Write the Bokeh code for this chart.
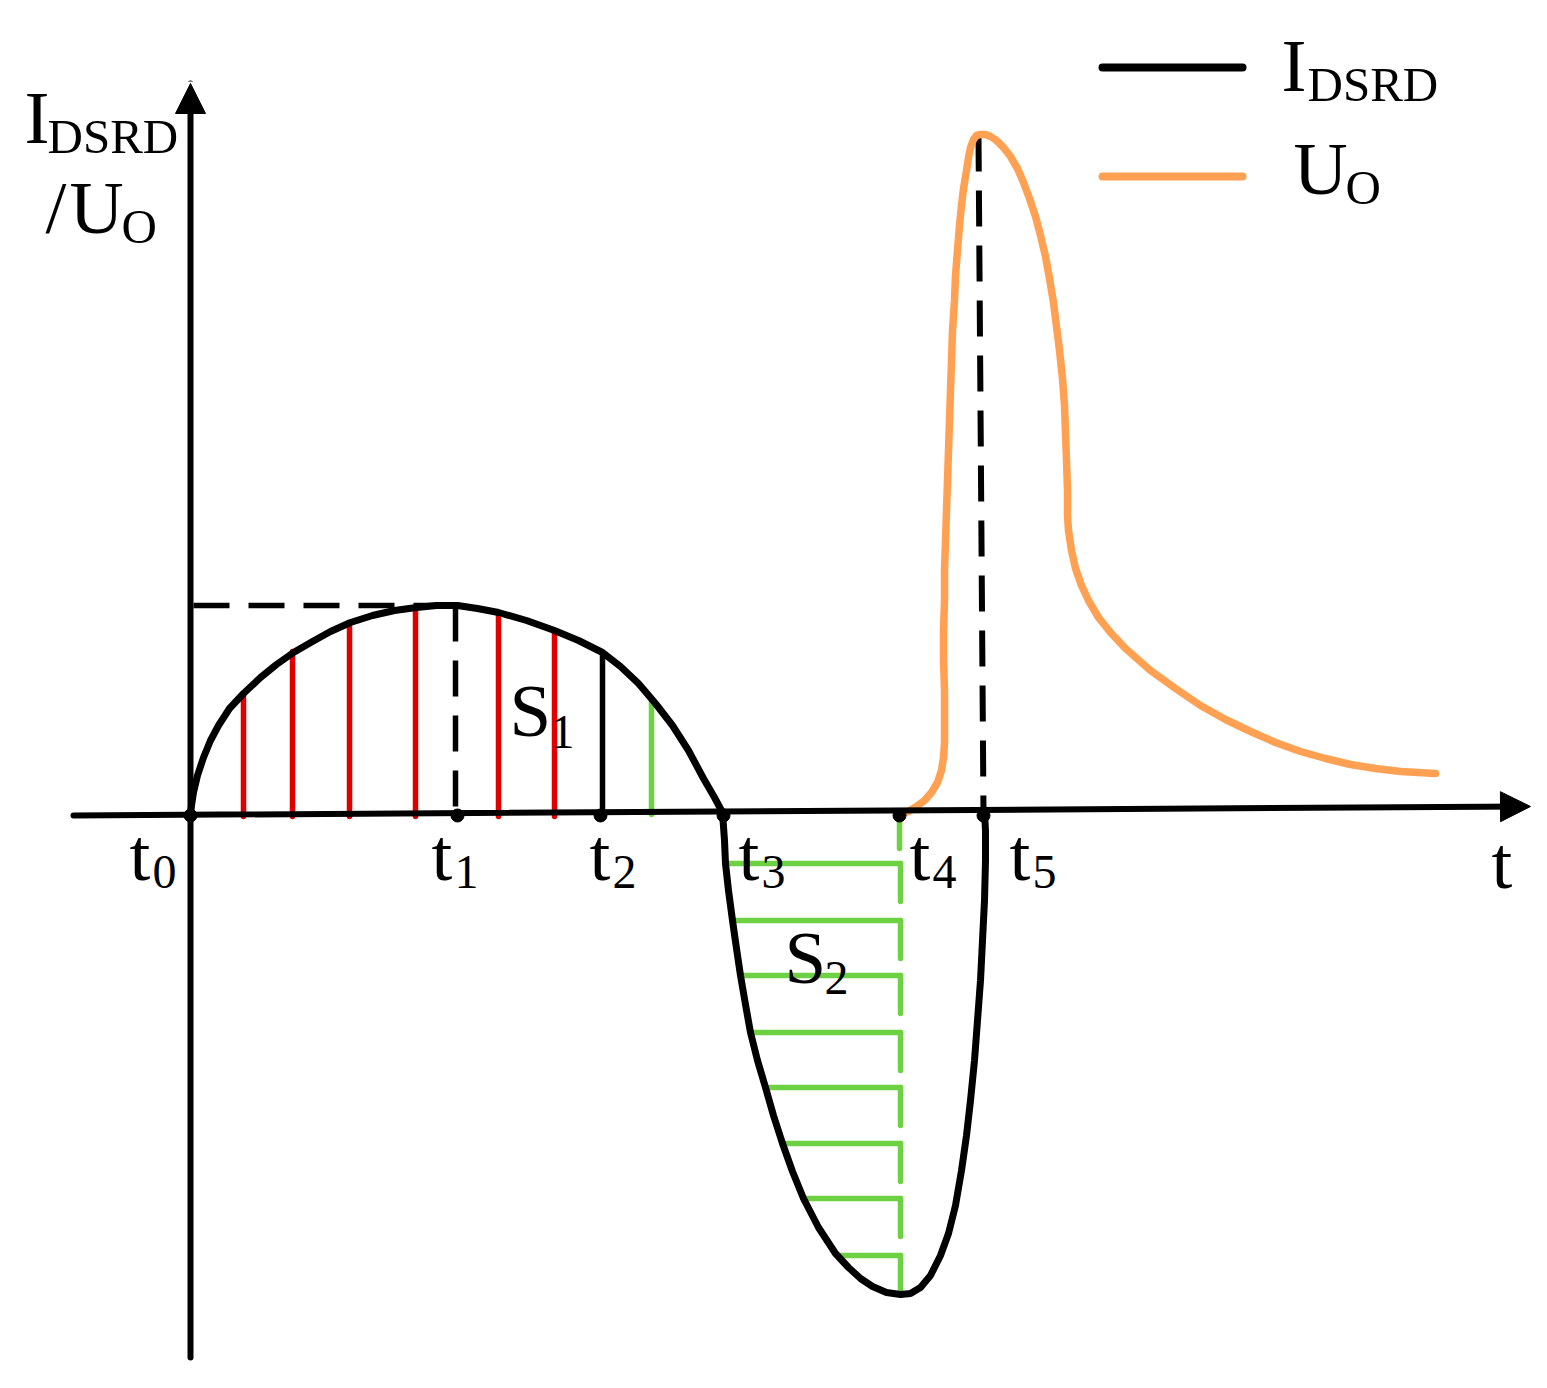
from bokeh.plotting import figure
from bokeh.models import Range1d, Arrow, NormalHead
from bokeh.core.properties import value
from bokeh.embed import file_html
from bokeh.resources import INLINE

# ---------------- data (arbitrary time units / amplitude units) ----------------
# I_DSRD current curve
i_t = [0, 1, 3, 7, 13, 20, 28, 39, 53, 70,
       86, 103, 122, 140, 160, 182, 204, 226, 246, 267,
       287, 308, 336, 364, 388, 412, 430, 448, 465, 482,
       498, 513, 524, 532, 534, 535, 538, 542, 546, 550,
       555, 560, 567, 575, 583, 592, 602, 613, 628, 645,
       658, 670, 682, 696, 710, 720, 730, 740, 750, 758,
       765, 771, 776, 780, 784, 787, 790, 792, 794, 795,
       795, 794]
i_val = [0, 9, 22, 39, 57, 74, 89, 106, 121, 137,
         150, 162, 173, 183, 192, 199, 204, 207, 209, 209,
         206, 202, 194, 184, 174, 162, 148, 131, 111, 89,
         64, 36, 17, 2, -26, -49, -76, -106, -134, -161,
         -190, -218, -246, -273, -301, -329, -357, -384, -413, -439,
         -453, -464, -472, -478, -480, -479, -473, -461, -441, -419,
         -391, -356, -321, -286, -246, -206, -166, -126, -86, -46,
         -16, 2]

# U_O output voltage curve
u_t = [710, 718, 726, 734, 741, 747, 751, 753, 754, 754,
       754, 753, 753, 754, 754, 755, 756, 757, 758, 759,
       760, 761, 762, 764, 765, 767, 769, 771, 773, 776,
       778, 780, 783, 786, 790, 795, 800, 806, 813, 820,
       827, 833, 839, 845, 850, 855, 859, 863, 866, 869,
       872, 874, 875, 876, 877, 877, 878, 881, 885, 891,
       898, 908, 920, 935, 960, 985, 1010, 1035, 1060, 1085,
       1110, 1135, 1160, 1185, 1210, 1245]
u_val = [0, 3, 8, 14, 22, 32, 44, 57, 72, 94,
         124, 154, 184, 214, 244, 274, 304, 334, 364, 394,
         424, 454, 484, 514, 539, 564, 589, 609, 626, 644,
         657, 667, 675, 679, 680, 680, 678, 674, 667, 658,
         646, 632, 616, 598, 579, 558, 536, 512, 488, 464,
         436, 409, 381, 354, 324, 299, 284, 264, 246, 229,
         214, 197, 182, 166, 144, 126, 109, 95, 83, 72,
         63, 56, 50, 46, 43, 41]

# characteristic instants t0..t5
t_marks = [0, 267, 410, 533, 709, 793]
t_names = ["0", "1", "2", "3", "4", "5"]
i_peak = 209           # peak of I_DSRD (at t1)
i_t2 = 162             # I_DSRD at t2
u_peak = 679           # peak of U_O (at t5)

# red hatching of S1
red_x = [53, 102, 159, 225, 308, 364]
red_top = [121, 163, 192, 206, 200, 183]
# green hatching (S1 tail)
green1_x = [461]
green1_top = [114]
# green hatching of S2
green_y = [-49, -106, -161, -218, -273, -329, -384, -441]
green_left = [535, 542, 550, 560, 575, 592, 613, 647]
green_right = 710
green_tick = 38

# axes extents
x_axis = [-117, -1, 1340, 8]   # x0, y0, x1, y1
y_axis = [0, -543, 0, 731]

BLACK = "#000000"
ORANGE = "#FFA052"
RED = "#E00000"
GREEN = "#6DD143"
FONT = value("Liberation Serif")

p = figure(width=1531, height=1372, output_backend="svg", toolbar_location=None,
           x_range=Range1d(-190, 1341), y_range=Range1d(-558, 814),
           x_axis_type=None, y_axis_type=None, min_border=0)
p.grid.visible = False
p.outline_line_color = None
p.background_fill_color = "white"
p.border_fill_color = "white"

# hatching
p.segment(x0=red_x, y0=[-2] * len(red_x), x1=red_x, y1=red_top,
          line_color=RED, line_width=5.5, line_cap="round")
p.segment(x0=green1_x, y0=[0], x1=green1_x, y1=green1_top,
          line_color=GREEN, line_width=5.5, line_cap="round")
p.segment(x0=green_left, y0=green_y, x1=[green_right] * len(green_y), y1=green_y,
          line_color=GREEN, line_width=5.5, line_cap="round")
p.segment(x0=[green_right] * len(green_y), y0=green_y,
          x1=[green_right] * len(green_y), y1=[g - green_tick for g in green_y],
          line_color=GREEN, line_width=5.5, line_cap="round")
p.segment(x0=[t_marks[4]], y0=[-8], x1=[t_marks[4]], y1=[-34],
          line_color=GREEN, line_width=5.5, line_cap="round")

# dashed guides
p.line([3, t_marks[1] - 2], [i_peak, i_peak], line_color=BLACK, line_width=5.5,
       line_dash="36 19")
p.line([t_marks[1] - 2, t_marks[1] - 2], [i_peak, 0], line_color=BLACK, line_width=5.5,
       line_dash="36 19")
p.line([788, t_marks[5]], [u_peak, 0], line_color=BLACK, line_width=6,
       line_dash="36 19")
# solid marker at t2
p.segment(x0=[t_marks[2] + 2], y0=[0], x1=[t_marks[2] + 2], y1=[i_t2],
          line_color=BLACK, line_width=5.5)

# axes
p.add_layout(Arrow(end=NormalHead(size=30, fill_color=BLACK, line_color=BLACK, line_width=1),
                   x_start=x_axis[0], y_start=x_axis[1], x_end=x_axis[2], y_end=x_axis[3],
                   line_width=6, line_color=BLACK, line_cap="round"))
p.add_layout(Arrow(end=NormalHead(size=30, fill_color=BLACK, line_color=BLACK, line_width=1),
                   x_start=y_axis[0], y_start=y_axis[1], x_end=y_axis[2], y_end=y_axis[3],
                   line_width=6, line_color=BLACK, line_cap="round"))

# curves
p.line(u_t, u_val, line_color=ORANGE, line_width=7.5, line_join="round", line_cap="round")
p.line(i_t, i_val, line_color=BLACK, line_width=7, line_join="round", line_cap="round")

# dots at t marks
p.scatter(t_marks, [-1] * len(t_marks), size=13, color=BLACK)

# legend lines
p.line([912, 1052], [747, 747], line_color=BLACK, line_width=8, line_cap="round")
p.line([912, 1052], [638, 638], line_color=ORANGE, line_width=8, line_cap="round")

# ---------------- texts ----------------
main_x = [-166, -145, -121, 1091, 1103, 1301, 319, 594]
main_y = [697, 607, 607, 749, 646, -48, 104, -143]
main_txt = ["I", "/", "U", "I", "U", "t", "S", "S"]
tl_x = [-61, 241, 399, 548, 719, 819]
main_x += tl_x
main_y += [-40] * len(tl_x)
main_txt += ["t"] * len(tl_x)
p.text(x=main_x, y=main_y, text=main_txt, text_font=FONT, text_font_size=value("75px"),
       text_baseline="alphabetic", text_align="left", text_color=BLACK)

sub_x = [-143, -69, 1117, 1155]
sub_y = [678, 588, 730, 627]
sub_txt = ["DSRD", "O", "DSRD", "O"]
p.text(x=sub_x, y=sub_y, text=sub_txt, text_font=FONT, text_font_size=value("49px"),
       text_baseline="alphabetic", text_align="left", text_color=BLACK)

num_x = [x + 23 for x in tl_x] + [360, 634]
num_y = [-57] * len(tl_x) + [83, -163]
num_txt = t_names + ["1", "2"]
p.text(x=num_x, y=num_y, text=num_txt, text_font=FONT, text_font_size=value("48px"),
       text_baseline="alphabetic", text_align="left", text_color=BLACK)

open("out.html", "w").write(file_html(p, INLINE))
